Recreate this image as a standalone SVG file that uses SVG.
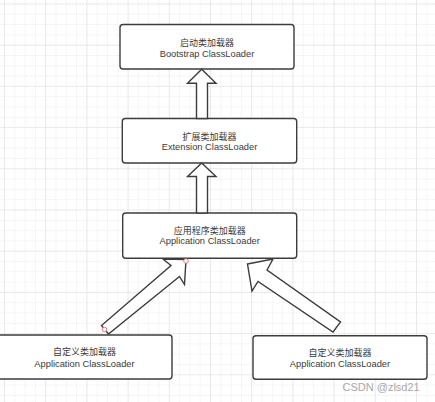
<svg xmlns="http://www.w3.org/2000/svg" width="435" height="402" viewBox="0 0 435 402">
  <defs>
    <pattern id="minor" width="10.3" height="10.3" patternUnits="userSpaceOnUse" patternTransform="translate(4 3.5)">
      <path d="M 10.3 0 L 0 0 0 10.3" fill="none" stroke="#ececec" stroke-width="1"/>
    </pattern>
    <pattern id="major" width="41.2" height="41.2" patternUnits="userSpaceOnUse" patternTransform="translate(4 3.5)">
      <path d="M 41.2 0 L 0 0 0 41.2" fill="none" stroke="#dedede" stroke-width="1"/>
    </pattern>
    <style>
      .box { fill: #ffffff; stroke: #3c3c3c; stroke-width: 1.4; }
      .arrow { fill: #ffffff; stroke: #3c3c3c; stroke-width: 1.4; stroke-linejoin: miter; }
      .cn { font-family: "Noto Sans CJK SC", "Liberation Sans", sans-serif; font-size: 9px; fill: #3a3a3a; text-anchor: middle; }
      .en { font-family: "Liberation Sans", "Noto Sans CJK SC", sans-serif; font-size: 9.3px; fill: #3a3a3a; text-anchor: middle; }
      .pt { fill: #ffffff; stroke: #e07070; stroke-width: 0.9; }
      .wm { font-family: "Liberation Sans", sans-serif; font-size: 11px; fill: #a8a8a8; }
    </style>
  </defs>
  <rect x="0" y="0" width="435" height="402" fill="#ffffff"/>
  <rect x="0" y="0" width="435" height="402" fill="url(#minor)"/>
  <rect x="0" y="0" width="435" height="402" fill="url(#major)"/>

  <g id="bootstrap">
    <rect class="box" x="120" y="24.5" width="174" height="44.5" rx="3"/>
    <text class="cn" x="207" y="45.5">启动类加载器</text>
    <text class="en" x="207" y="56.5">Bootstrap ClassLoader</text>
  </g>
  <g id="extension">
    <rect class="box" x="122.3" y="118.5" width="174.4" height="44.5" rx="3"/>
    <text class="cn" x="209.5" y="139.5">扩展类加载器</text>
    <text class="en" x="209.5" y="150">Extension ClassLoader</text>
  </g>
  <g id="application">
    <rect class="box" x="122.7" y="213" width="174" height="45.3" rx="3"/>
    <text class="cn" x="209.7" y="233.5">应用程序类加载器</text>
    <text class="en" x="209.7" y="244.3">Application ClassLoader</text>
  </g>
  <g id="custom-left">
    <rect class="box" x="-3" y="335" width="175" height="44" rx="3"/>
    <text class="cn" x="84.5" y="355">自定义类加载器</text>
    <text class="en" x="84.5" y="366.5">Application ClassLoader</text>
  </g>
  <g id="custom-right">
    <rect class="box" x="253" y="335.7" width="174" height="43.5" rx="3"/>
    <text class="cn" x="340" y="355.5">自定义类加载器</text>
    <text class="en" x="340" y="366.8">Application ClassLoader</text>
  </g>

  <g id="connectors">
    <polygon class="arrow" points="201.7,69.3 216,83.3 207.5,83.3 207.5,118.5 196.5,118.5 196.5,83.3 187.5,83.3"/>
    <polygon class="arrow" points="201.7,163 216,176.5 207.5,176.5 207.5,213 196.5,213 196.5,176.5 187.5,176.5"/>
    <polygon class="arrow" points="186,259.5 184.5,284.5 179.5,276.5 108.5,334 101.5,325.5 171,265.5 163,259"/>
    <polygon class="arrow" points="247.5,264 273,259 267,270 340.5,322 333,332 258,281.5 252,291"/>
    <circle class="pt" cx="186" cy="261" r="2.3"/>
    <circle class="pt" cx="104.5" cy="329.5" r="2.3"/>
  </g>

  <text class="wm" x="342.5" y="390.5">CSDN @zlsd21</text>
</svg>
